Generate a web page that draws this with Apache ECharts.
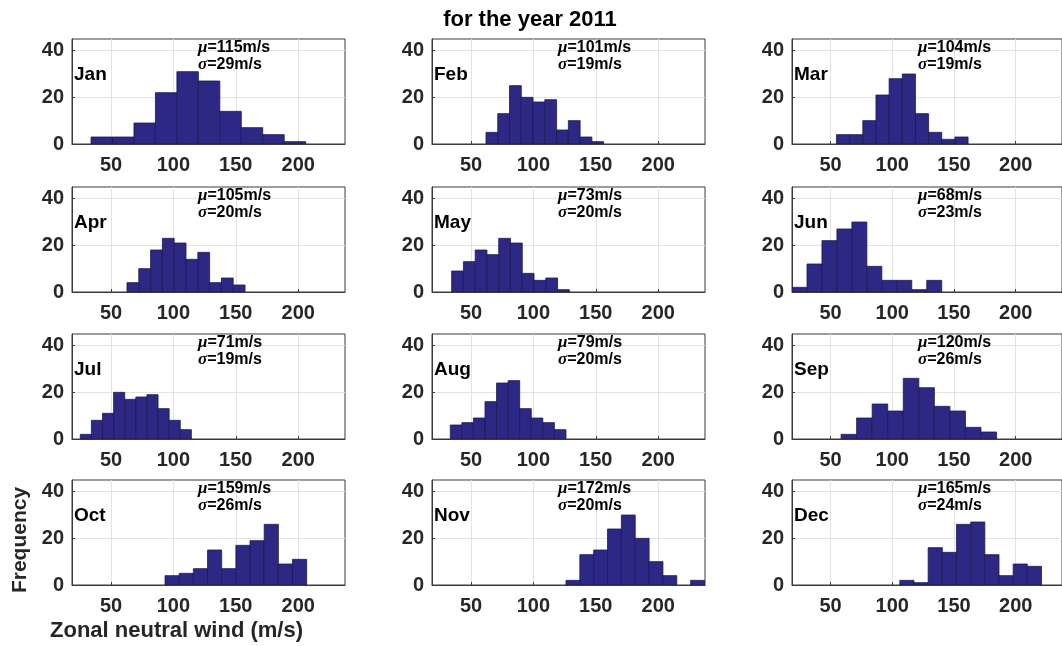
<!DOCTYPE html>
<html>
<head>
<meta charset="utf-8">
<script src="https://cdn.jsdelivr.net/npm/echarts@6/dist/echarts.min.js"></script>
<style>
  html, body { margin: 0; padding: 0; background: #ffffff; }
  #chart { width: 1062px; height: 646px; }
</style>
</head>
<body>
<div id="chart"></div>
<script>
// Monthly histograms of zonal neutral wind speed, year 2011
const months = ['Jan', 'Feb', 'Mar', 'Apr', 'May', 'Jun', 'Jul', 'Aug', 'Sep', 'Oct', 'Nov', 'Dec'];
// first bin edge and bin width (m/s) of each month's histogram
const binStart = [34.0, 62.0, 54.8, 62.8, 34.5, 18.75, 25.4, 33.4, 58.5, 93.3, 126.1, 106.1];
const binWidth = [17.2, 9.43, 10.66, 9.46, 9.43, 12.13, 8.9, 9.27, 12.6, 11.35, 11.1, 11.48];
// counts per bin
const counts = [
  [3, 3, 9, 22, 31, 27, 14, 7, 4, 1],
  [5, 13, 25, 20, 18, 19, 6, 10, 3, 1],
  [4, 4, 10, 21, 28, 30, 13, 5, 2, 3],
  [4, 10, 18, 23, 21, 14, 17, 4, 6, 3],
  [9, 13, 18, 16, 23, 21, 8, 5, 6, 1],
  [2, 12, 22, 27, 30, 11, 5, 5, 1, 5],
  [2, 8, 11, 20, 17, 18, 19, 13, 8, 4],
  [6, 7, 9, 16, 24, 25, 13, 9, 7, 4],
  [2, 9, 15, 12, 26, 22, 14, 12, 5, 3],
  [4, 5, 7, 15, 7, 17, 19, 26, 9, 11],
  [2, 13, 15, 24, 30, 20, 10, 4, 0, 2],
  [2, 1, 16, 14, 26, 27, 13, 4, 9, 8]
];
const meanSpeed = [115, 101, 104, 105, 73, 68, 71, 79, 120, 159, 172, 165];
const stdSpeed = [29, 19, 19, 20, 20, 23, 19, 20, 26, 26, 20, 24];
const xTicks = [50, 100, 150, 200];
const yTicks = [0, 20, 40];
const xRange = [18.75, 237.5];
const yRange = [0, 45];

// layout of the 4 x 3 panel grid (pixels)
const colLeft = [72, 432, 792];
const rowTop = [39, 187, 334, 480];
const panelW = 273;
const panelH = 105;

const SANS = '"Liberation Sans", Arial, Helvetica, sans-serif';
const SERIF = '"Liberation Serif", "DejaVu Serif", serif';
const AXIS_COLOR = '#3a3a3a';
const LABEL_COLOR = '#262626';
const GRID_COLOR = '#e3e3e3';
const BAR_FILL = '#2c2884';
const BAR_EDGE = '#1c1a52';

const chart = echarts.init(document.getElementById('chart'), null, { renderer: 'canvas' });

const grids = [], xAxes = [], yAxes = [], series = [], graphics = [];

function renderBin(params, api) {
  const top = api.coord([api.value(0), api.value(2)]);
  const base = api.coord([api.value(1), 0]);
  return {
    type: 'rect',
    shape: { x: top[0], y: top[1], width: base[0] - top[0], height: base[1] - top[1] },
    style: { fill: BAR_FILL, stroke: BAR_EDGE, lineWidth: 0.8 }
  };
}

const richStyle = {
  g: { fontFamily: SERIF, fontStyle: 'italic', fontWeight: 'bold', fontSize: 17, fill: '#000000' },
  t: { fontFamily: SANS, fontWeight: 'bold', fontSize: 16, fill: '#000000' }
};

months.forEach((m, i) => {
  const r = Math.floor(i / 3), c = i % 3;
  const left = colLeft[c], top = rowTop[r];
  grids.push({
    left: left, top: top, width: panelW, height: panelH,
    show: true, backgroundColor: '#ffffff', borderColor: AXIS_COLOR, borderWidth: 1
  });
  xAxes.push({
    type: 'value', gridIndex: i, min: xRange[0], max: xRange[1],
    axisLine: { show: true, lineStyle: { color: AXIS_COLOR, width: 1 } },
    axisTick: { show: true, inside: true, length: 3, customValues: xTicks, lineStyle: { color: AXIS_COLOR } },
    axisLabel: { customValues: xTicks, color: LABEL_COLOR, fontFamily: SANS, fontWeight: 'bold', fontSize: 20, margin: 11 },
    splitLine: { show: true, lineStyle: { color: GRID_COLOR, width: 1 } }
  });
  yAxes.push({
    type: 'value', gridIndex: i, min: yRange[0], max: yRange[1],
    axisLine: { show: true, lineStyle: { color: AXIS_COLOR, width: 1 } },
    axisTick: { show: true, inside: true, length: 3, customValues: yTicks, lineStyle: { color: AXIS_COLOR } },
    axisLabel: { customValues: yTicks, color: LABEL_COLOR, fontFamily: SANS, fontWeight: 'bold', fontSize: 20, margin: 8 },
    splitLine: { show: true, lineStyle: { color: GRID_COLOR, width: 1 } }
  });
  const bins = [];
  counts[i].forEach((n, k) => {
    if (n > 0) {
      const x0 = binStart[i] + k * binWidth[i];
      bins.push([x0, x0 + binWidth[i], n]);
    }
  });
  series.push({
    type: 'custom', xAxisIndex: i, yAxisIndex: i, clip: true,
    renderItem: renderBin, encode: { x: [0, 1], y: 2 }, data: bins, silent: true
  });

  // month name
  graphics.push({
    type: 'text', x: left + 2, y: top + 36, z: 10,
    style: { text: m, fill: '#000000', font: 'bold 19px ' + SANS, align: 'left', verticalAlign: 'middle' }
  });
  // mean and standard deviation
  graphics.push({
    type: 'text', x: left + 126, y: top + 9, z: 10,
    style: { text: '{g|μ}{t|=' + meanSpeed[i] + 'm/s}', rich: richStyle, align: 'left', verticalAlign: 'middle' }
  });
  graphics.push({
    type: 'text', x: left + 126, y: top + 26, z: 10,
    style: { text: '{g|σ}{t|=' + stdSpeed[i] + 'm/s}', rich: richStyle, align: 'left', verticalAlign: 'middle' }
  });
});

// figure title and axis names
graphics.push({
  type: 'text', x: 530, y: 20,
  style: { text: 'for the year 2011', fill: '#000000', font: 'bold 22px ' + SANS, align: 'center', verticalAlign: 'middle' }
});
graphics.push({
  type: 'text', x: 20, y: 540, rotation: Math.PI / 2,
  style: { text: 'Frequency', fill: LABEL_COLOR, font: 'bold 21px ' + SANS, align: 'center', verticalAlign: 'middle' }
});
graphics.push({
  type: 'text', x: 50, y: 631,
  style: { text: 'Zonal neutral wind (m/s)', fill: LABEL_COLOR, font: 'bold 22px ' + SANS, align: 'left', verticalAlign: 'middle' }
});

chart.setOption({
  animation: false,
  backgroundColor: '#ffffff',
  grid: grids,
  xAxis: xAxes,
  yAxis: yAxes,
  series: series,
  graphic: graphics
});
</script>
</body>
</html>
